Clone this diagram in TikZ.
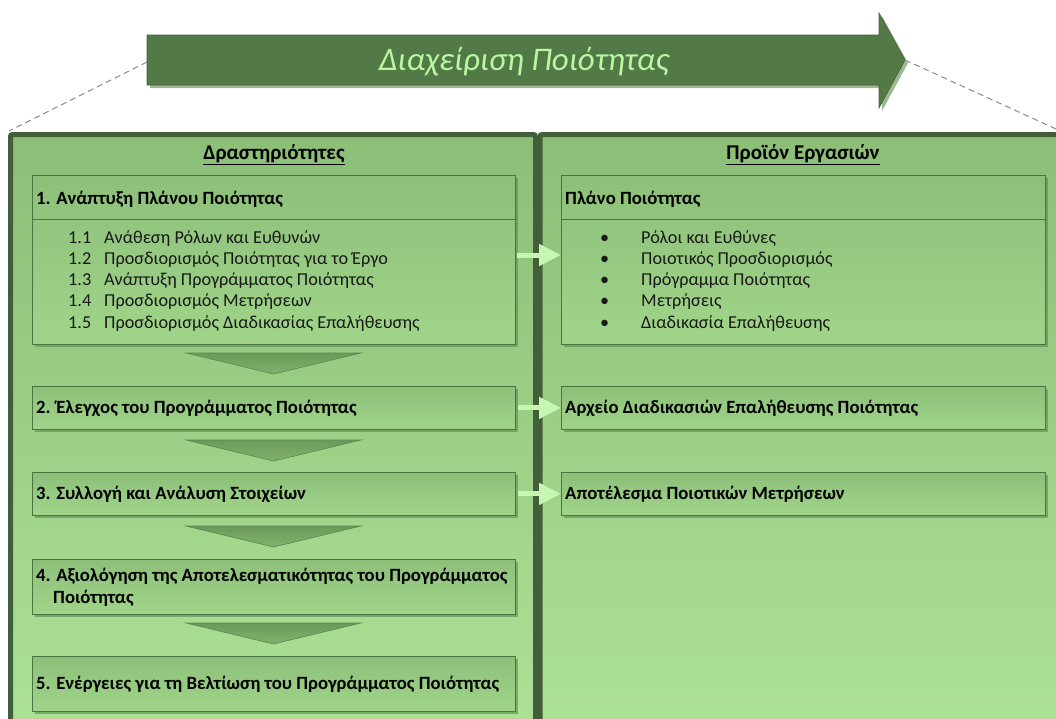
\documentclass[tikz,border=0pt]{standalone}
\usepackage{fontspec}
\setmainfont{Carlito}
\usetikzlibrary{arrows.meta,shadows}
\definecolor{panelTop}{HTML}{8CBE77}
\definecolor{panelBot}{HTML}{AEE497}
\definecolor{panelBorder}{HTML}{435F3A}
\definecolor{boxTop}{HTML}{8DBF79}
\definecolor{boxBot}{HTML}{A0D589}
\definecolor{boxLine}{HTML}{4C7442}
\definecolor{boxShadow}{HTML}{5E8552}
\definecolor{arrowFill}{HTML}{537946}
\definecolor{arrowShadow}{HTML}{9DB893}
\definecolor{titleText}{HTML}{B9F7A3}
\definecolor{lightArrow}{HTML}{C6F6B0}
\definecolor{chevTop}{HTML}{6C9A5B}
\definecolor{chevBot}{HTML}{82B16D}
\definecolor{chevLine}{HTML}{5B874D}
\definecolor{dashGray}{HTML}{8A8A8A}
\begin{document}
\begin{tikzpicture}[x=1pt,y=-1pt,
  panel/.style={draw=panelBorder, line width=5pt, rounded corners=2pt, top color=panelTop, bottom color=panelBot},
  box/.style={draw=boxLine, line width=0.8pt, top color=boxTop, bottom color=boxBot, anchor=north west, inner sep=0pt,
     drop shadow={shadow xshift=3pt, shadow yshift=-3pt, fill=boxShadow, opacity=0.6}},
  boxtitle/.style={anchor=base west, inner sep=0pt, font=\fontsize{18.7}{22}\selectfont\bfseries, text=black},
  itemtext/.style={anchor=base west, inner sep=0pt, font=\fontsize{18.2}{22}\selectfont, text=black!90},
  heading/.style={anchor=base, inner sep=0pt, font=\fontsize{21}{24}\selectfont\bfseries, text=black},
  chev/.style={draw=chevLine, line width=0.6pt, top color=chevTop, bottom color=chevBot},
  flowarrow/.style={draw=lightArrow, line width=5pt, -{Triangle[length=22pt, width=21pt, fill=lightArrow]}, shorten <=0pt},
  guide/.style={dashGray, line width=1pt, dash pattern=on 6pt off 4pt}
]
\useasboundingbox (0,0) rectangle (1056,718);
\begin{scope}
\clip (0,0) rectangle (1056,718);

% dashed guide lines
\coordinate (gl1) at (147,62);
\coordinate (gl2) at (9,131);
\coordinate (gr1) at (905,60);
\coordinate (gr2) at (1056,129);
\draw[guide] (gl1) -- (gl2);
\draw[guide] (gr1) -- (gr2);

% big arrow
\fill[arrowShadow] (150,38) -- (882,38) -- (882,16) -- (908,63) -- (882,111) -- (882,88) -- (150,88) -- cycle;
\path[fill=arrowFill, draw=arrowFill!80!black, line width=0.6pt] (147,35) -- (879,35) -- (879,13) -- (905,60) -- (879,108) -- (879,85) -- (147,85) -- cycle;
\node[anchor=base, inner sep=0pt, font=\fontsize{33}{36}\selectfont\itshape, text=titleText] (title) at (524,70) {Διαχείριση Ποιότητας};

% panels
\path[panel] (10.5,134.5) rectangle (535.5,760);
\path[panel] (540,134.5) rectangle (1080,760);

\node[heading] (hl) at (274,159) {\underline{Δραστηριότητες}};
\node[heading] (hr) at (803,159) {\underline{Προϊόν Εργασιών}};

% left boxes
\node[box, minimum width=483pt, minimum height=169pt] (b1) at (32,175) {};
\draw[boxLine, line width=0.8pt] (b1.west |- 0,219) -- (b1.east |- 0,219);
\node[boxtitle] (b1t) at (36,204) {1. Ανάπτυξη Πλάνου Ποιότητας};
\node[itemtext] (n1) at (68,243) {1.1};
\node[itemtext] (i1) at (104,243) {Ανάθεση Ρόλων και Ευθυνών};
\node[itemtext] (n2) at (68,264.25) {1.2};
\node[itemtext] (i2) at (104,264.25) {Προσδιορισμός Ποιότητας για το Έργο};
\node[itemtext] (n3) at (68,285.5) {1.3};
\node[itemtext] (i3) at (104,285.5) {Ανάπτυξη Προγράμματος Ποιότητας};
\node[itemtext] (n4) at (68,306.75) {1.4};
\node[itemtext] (i4) at (104,306.75) {Προσδιορισμός Μετρήσεων};
\node[itemtext] (n5) at (68,328) {1.5};
\node[itemtext] (i5) at (104,328) {Προσδιορισμός Διαδικασίας Επαλήθευσης};

\node[box, minimum width=483pt, minimum height=43pt] (b2) at (32,386) {};
\node[boxtitle] (b2t) at (36,413) {2. Έλεγχος του Προγράμματος Ποιότητας};
\node[box, minimum width=483pt, minimum height=43pt] (b3) at (32,472) {};
\node[boxtitle] (b3t) at (36,499) {3. Συλλογή και Ανάλυση Στοιχείων};
\node[box, minimum width=483pt, minimum height=55pt] (b4) at (32,559) {};
\node[boxtitle] (b4t) at (36,581) {4. Αξιολόγηση της Αποτελεσματικότητας του Προγράμματος};
\node[boxtitle] (b4u) at (53,603) {Ποιότητας};
\node[box, minimum width=483pt, minimum height=55pt] (b5) at (32,656) {};
\node[boxtitle] (b5t) at (36,689) {5. Ενέργειες για τη Βελτίωση του Προγράμματος Ποιότητας};

% chevrons
\path[chev] (186,353) -- (361,353) -- (273.5,374) -- cycle;
\path[chev] (186,440) -- (361,440) -- (273.5,461) -- cycle;
\path[chev] (186,526) -- (361,526) -- (273.5,547) -- cycle;
\path[chev] (186,623) -- (361,623) -- (273.5,644) -- cycle;

% right boxes
\node[box, minimum width=484pt, minimum height=169pt] (r1) at (561,175) {};
\draw[boxLine, line width=0.8pt] (r1.west |- 0,219) -- (r1.east |- 0,219);
\node[boxtitle] (r1t) at (565,204) {Πλάνο Ποιότητας};
\foreach \yy/\tx [count=\k] in {243/Ρόλοι και Ευθύνες, 264.25/Ποιοτικός Προσδιορισμός, 285.5/Πρόγραμμα Ποιότητας, 306.75/Μετρήσεις, 328/Διαδικασία Επαλήθευσης}{
  \node[itemtext] (rb\k) at (600,\yy) {•};
  \node[itemtext] (ri\k) at (641,\yy) {\tx};
}
\node[box, minimum width=484pt, minimum height=43pt] (r2) at (561,386) {};
\node[boxtitle] (r2t) at (565,413) {Αρχείο Διαδικασιών Επαλήθευσης Ποιότητας};
\node[box, minimum width=484pt, minimum height=43pt] (r3) at (561,472) {};
\node[boxtitle] (r3t) at (565,499) {Αποτέλεσμα Ποιοτικών Μετρήσεων};

% flow arrows
\coordinate (a1) at (517,255);
\draw[flowarrow] (a1) -- (r1.west |- a1);
\draw[flowarrow] (b2.east) ++(2,0) coordinate (a2) -- (r2.west);
\draw[flowarrow] (b3.east) ++(2,0) coordinate (a3) -- (r3.west);
\end{scope}
\end{tikzpicture}
\end{document}
